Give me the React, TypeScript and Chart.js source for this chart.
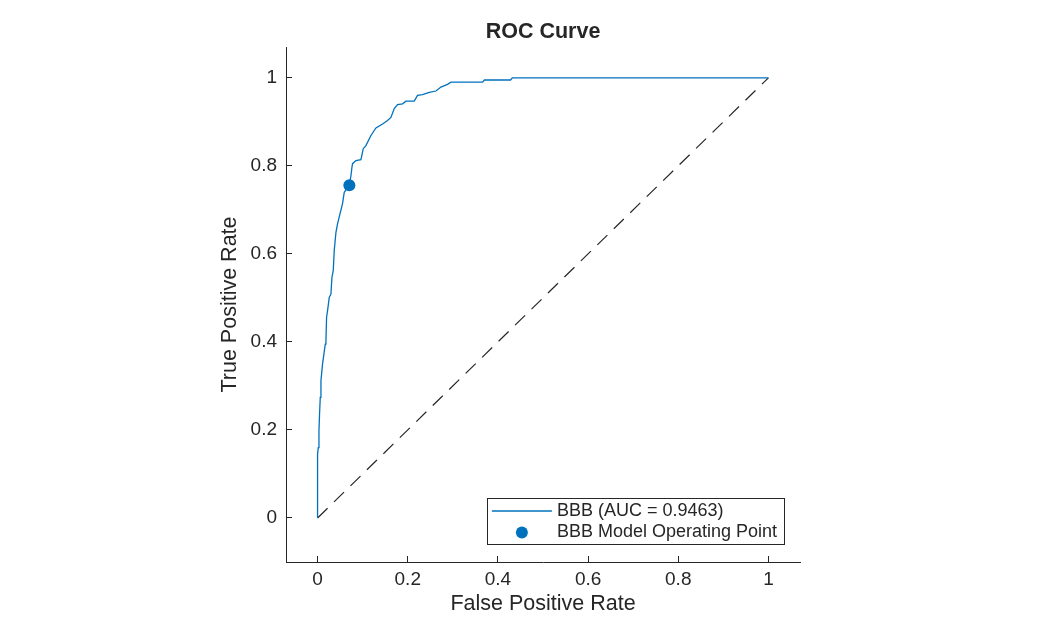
import { useEffect, useRef } from 'react';
import { Chart, ChartConfiguration, Plugin, registerables } from 'chart.js';

Chart.register(...registerables);

const FONT = '"Liberation Sans", Arial, Helvetica, sans-serif';
const TEXT_COLOR = '#262626';
const ROC_COLOR = '#0072BD';

// ROC curve (false positive rate / true positive rate)
const fpr = [
  0, 0, 0, 0.0016, 0.0031, 0.0044, 0.006, 0.0075, 0.0111, 0.0171, 0.0186, 0.02, 0.0222, 0.0259,
  0.0297, 0.0319, 0.0348, 0.037, 0.0408, 0.0443, 0.0497, 0.0554, 0.0592, 0.065, 0.0705, 0.0741,
  0.0763, 0.0776, 0.0851, 0.0962, 0.1013, 0.1073, 0.1184, 0.1295, 0.1441, 0.1552, 0.1627, 0.1701,
  0.1774, 0.1885, 0.196, 0.2144, 0.2217, 0.2328, 0.2477, 0.2625, 0.2736, 0.2882, 0.2958, 0.366,
  0.37, 0.428, 0.432, 1
];
const tpr = [
  0, 0.085, 0.145, 0.16, 0.198, 0.236, 0.274, 0.312, 0.35, 0.395, 0.403, 0.456, 0.471, 0.501,
  0.509, 0.547, 0.562, 0.608, 0.649, 0.668, 0.691, 0.714, 0.74, 0.748, 0.756, 0.778,
  0.797, 0.805, 0.812, 0.814, 0.839, 0.846, 0.869, 0.886, 0.895, 0.903, 0.91, 0.93,
  0.939, 0.941, 0.947, 0.947, 0.96, 0.962, 0.967, 0.97, 0.979, 0.985, 0.99, 0.99,
  0.995, 0.995, 1, 1
];

const operatingPoint = { x: 0.0705, y: 0.756 };
const chancePoints = [
  { x: 0, y: 0 },
  { x: 1, y: 1 }
];

const xTicks = [0, 0.2, 0.4, 0.6, 0.8, 1];
const xTickLabels = ['0', '0.2', '0.4', '0.6', '0.8', '1'];
const yTicks = [0, 0.2, 0.4, 0.6, 0.8, 1];
const yTickLabels = ['0', '0.2', '0.4', '0.6', '0.8', '1'];

const legendLabels = ['BBB (AUC = 0.9463)', 'BBB Model Operating Point'];

const annotations: Plugin<'line'> = {
  id: 'matlabAnnotations',
  afterDraw(chart) {
    const { ctx, chartArea } = chart;
    const cx = (chartArea.left + chartArea.right) / 2;
    const cy = (chartArea.top + chartArea.bottom) / 2;
    ctx.save();
    ctx.fillStyle = TEXT_COLOR;
    ctx.textAlign = 'center';
    ctx.textBaseline = 'middle';

    ctx.font = `bold 21.5px ${FONT}`;
    ctx.fillText('ROC Curve', cx, chartArea.top - 15);

    ctx.font = `21.5px ${FONT}`;
    ctx.fillText('False Positive Rate', cx, chartArea.bottom + 42);
    ctx.save();
    ctx.translate(chartArea.left - 56, cy);
    ctx.rotate(-Math.PI / 2);
    ctx.fillText('True Positive Rate', 0, 0);
    ctx.restore();

    // legend, lower right inside the axes
    ctx.font = `18px ${FONT}`;
    const textW = Math.max(...legendLabels.map((t) => ctx.measureText(t).width));
    const boxW = 70 + textW + 7;
    const boxH = 46;
    const right = chartArea.right - 16;
    const bottom = chartArea.bottom - 18;
    const left = right - boxW;
    const top = bottom - boxH;
    ctx.fillStyle = '#ffffff';
    ctx.fillRect(left, top, boxW, boxH);
    ctx.strokeStyle = TEXT_COLOR;
    ctx.lineWidth = 1;
    ctx.strokeRect(Math.round(left) + 0.5, Math.round(top) + 0.5, Math.round(boxW), Math.round(boxH));

    const row1 = top + 13;
    const row2 = top + 34.5;
    ctx.strokeStyle = ROC_COLOR;
    ctx.lineWidth = 1.3;
    ctx.beginPath();
    ctx.moveTo(left + 5, row1);
    ctx.lineTo(left + 65, row1);
    ctx.stroke();
    ctx.fillStyle = ROC_COLOR;
    ctx.beginPath();
    ctx.arc(left + 35, row2, 6, 0, Math.PI * 2);
    ctx.fill();

    ctx.fillStyle = TEXT_COLOR;
    ctx.textAlign = 'left';
    ctx.fillText(legendLabels[0], left + 70, row1);
    ctx.fillText(legendLabels[1], left + 70, row2);
    ctx.restore();
  }
};

function RocChart() {
  const canvasRef = useRef<HTMLCanvasElement | null>(null);
  const chartRef = useRef<Chart | null>(null);

  useEffect(() => {
    document.body.style.margin = '0';
    if (!canvasRef.current) {
      return;
    }
    const ctx = canvasRef.current.getContext('2d');
    if (!ctx) {
      return;
    }
    const axisBorder = { display: true, color: TEXT_COLOR, width: 1 };
    const axisGrid = {
      display: true,
      drawOnChartArea: false,
      drawTicks: true,
      tickLength: -6,
      color: TEXT_COLOR,
      lineWidth: 1
    };
    const config: ChartConfiguration<'line', { x: number; y: number }[]> = {
      type: 'line',
      data: {
        datasets: [
          {
            label: legendLabels[1],
            data: [operatingPoint],
            showLine: false,
            pointRadius: 6,
            pointBackgroundColor: ROC_COLOR,
            pointBorderWidth: 0
          },
          {
            label: legendLabels[0],
            data: fpr.map((x, i) => ({ x, y: tpr[i] })),
            borderColor: ROC_COLOR,
            borderWidth: 1.3,
            pointRadius: 0,
            tension: 0,
            fill: false
          },
          {
            label: 'chance',
            data: chancePoints,
            borderColor: TEXT_COLOR,
            borderWidth: 1.2,
            borderDash: [14, 9],
            pointRadius: 0,
            fill: false
          }
        ]
      },
      options: {
        responsive: true,
        maintainAspectRatio: false,
        animation: false,
        layout: {
          padding: { top: 47, right: 250, left: 0, bottom: 0 }
        },
        font: { family: FONT },
        scales: {
          x: {
            type: 'linear',
            min: -0.07,
            max: 1.07,
            border: axisBorder,
            grid: axisGrid,
            afterBuildTicks: (scale) => {
              scale.ticks = xTicks.map((value) => ({ value }));
            },
            afterFit: (scale) => {
              scale.height = 69;
            },
            ticks: {
              color: TEXT_COLOR,
              font: { family: FONT, size: 19 },
              padding: 12,
              maxRotation: 0,
              autoSkip: false,
              callback: (value) => xTickLabels[xTicks.indexOf(Number(value))] ?? ''
            }
          },
          y: {
            type: 'linear',
            min: -0.1,
            max: 1.07,
            border: axisBorder,
            grid: axisGrid,
            afterBuildTicks: (scale) => {
              scale.ticks = yTicks.map((value) => ({ value }));
            },
            afterFit: (scale) => {
              scale.width = 286;
            },
            ticks: {
              color: TEXT_COLOR,
              font: { family: FONT, size: 19 },
              padding: 15,
              autoSkip: false,
              callback: (value) => yTickLabels[yTicks.indexOf(Number(value))] ?? ''
            }
          }
        },
        plugins: {
          legend: { display: false },
          title: { display: false },
          tooltip: { enabled: false }
        }
      },
      plugins: [annotations]
    };

    if (chartRef.current) {
      chartRef.current.destroy();
    }
    chartRef.current = new Chart(ctx, config);

    return () => {
      chartRef.current?.destroy();
      chartRef.current = null;
    };
  }, []);

  return (
    <div style={{ width: '1050px', height: '631px', position: 'relative', background: '#ffffff' }}>
      <canvas ref={canvasRef} aria-label="ROC Curve" role="img" />
    </div>
  );
}

export default function App() {
  return <RocChart />;
}
